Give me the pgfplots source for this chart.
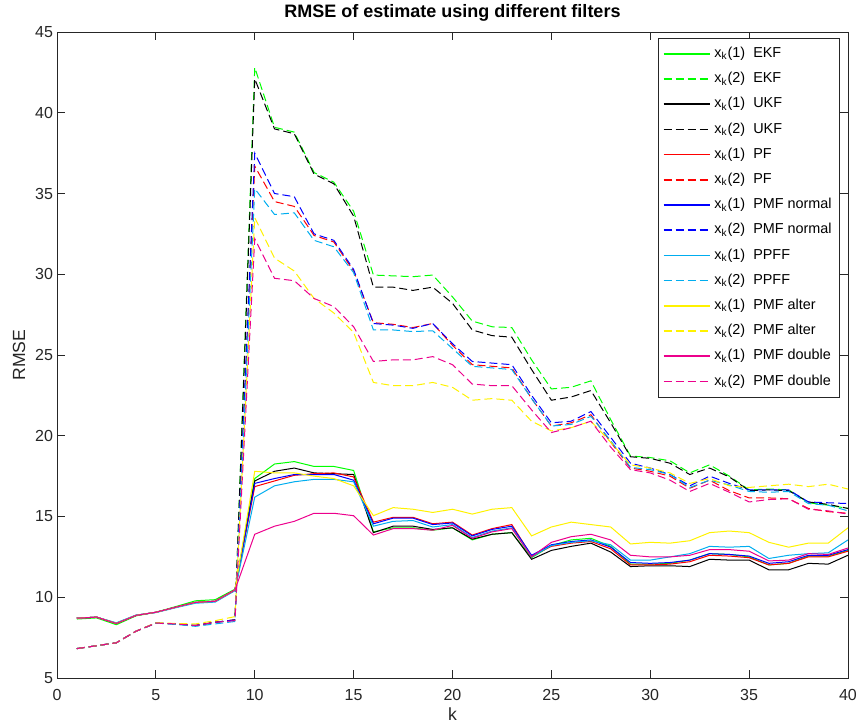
\documentclass[border=0pt]{standalone}
\usepackage{pgfplots}
\usepackage{pgfplotstable}
\pgfplotsset{compat=1.18}
\usepackage{fontspec}
\setmainfont{Liberation Sans}
\definecolor{axgray}{rgb}{0.15,0.15,0.15}

\pgfplotstableread{
k  e1    u1    p1    n1    f1    a1    d1
1  8.65  8.7   8.7   8.7   8.7   8.7   8.7
2  8.72  8.77  8.77  8.77  8.77  8.77  8.77
3  8.3   8.38  8.38  8.38  8.42  8.38  8.38
4  8.85  8.88  8.88  8.88  8.9   8.88  8.88
5  9.07  9.07  9.07  9.07  9.05  9.07  9.07
6  9.42  9.38  9.38  9.38  9.35  9.38  9.38
7  9.78  9.68  9.68  9.68  9.63  9.68  9.68
8  9.85  9.75  9.75  9.75  9.7   9.75  9.75
9  10.5  10.45 10.45 10.45 10.4  10.45 10.45
10 17.35 17.2  16.85 17.05 16.2  17.8  13.9
11 18.25 17.8  17.2  17.35 16.9  17.7  14.4
12 18.4  18.0  17.55 17.6  17.15 17.7  14.7
13 18.1  17.7  17.65 17.6  17.3  17.5  15.2
14 18.1  17.65 17.7  17.6  17.3  17.35 15.2
15 17.85 17.6  17.45 17.25 17.15 16.9  15.05
16 14.05 14.0  14.65 14.55 14.4  15.05 13.85
17 14.3  14.4  14.95 14.9  14.7  15.55 14.25
18 14.3  14.4  14.95 14.9  14.75 15.45 14.25
19 14.15 14.2  14.55 14.5  14.35 15.25 14.15
20 14.3  14.3  14.65 14.6  14.5  15.45 14.45
21 13.55 13.6  13.85 13.8  13.7  15.15 13.65
22 13.9  13.9  14.25 14.2  14.1  15.45 14.05
23 14.0  14.0  14.5  14.4  14.3  15.55 14.25
24 12.45 12.35 12.55 12.6  12.5  13.8  12.5
25 13.2  12.9  13.15 13.25 13.2  14.35 13.4
26 13.55 13.15 13.35 13.45 13.4  14.65 13.75
27 13.65 13.35 13.45 13.55 13.5  14.5  13.9
28 13.15 12.8  13.0  13.1  13.25 14.35 13.55
29 12.05 11.9  12.0  12.15 12.3  13.3  12.6
30 12.05 11.95 12.0  12.1  12.3  13.4  12.5
31 12.1  11.95 12.05 12.15 12.5  13.35 12.5
32 12.3  11.9  12.2  12.3  12.7  13.5  12.6
33 12.7  12.35 12.6  12.7  13.15 14.0  12.95
34 12.65 12.3  12.55 12.65 13.1  14.1  12.95
35 12.5  12.3  12.45 12.55 13.15 14.0  12.85
36 12.0  11.7  12.0  12.1  12.4  13.4  12.25
37 12.1  11.7  12.1  12.2  12.6  13.1  12.3
38 12.55 12.1  12.5  12.6  12.7  13.35 12.7
39 12.55 12.05 12.5  12.6  12.75 13.35 12.65
40 12.9  12.6  12.85 12.95 13.55 14.3  13.05
}\solid

\pgfplotstableread{
k  e2    u2    p2    n2    f2    a2    d2
1  6.82  6.82  6.82  6.82  6.82  6.82  6.82
2  7.0   7.0   7.0   7.0   7.0   7.0   7.0
3  7.18  7.18  7.18  7.18  7.18  7.18  7.18
4  7.9   7.9   7.9   7.9   7.9   7.9   7.9
5  8.4   8.4   8.4   8.4   8.4   8.42  8.4
6  8.35  8.35  8.35  8.35  8.32  8.38  8.35
7  8.25  8.25  8.25  8.25  8.2   8.35  8.25
8  8.45  8.45  8.45  8.45  8.35  8.55  8.45
9  8.6   8.6   8.6   8.6   8.5   8.8   8.55
10 42.8  42.1  36.7  37.5  35.3  33.5  32.2
11 39.1  39.0  34.5  35.0  33.7  31.0  29.75
12 38.8  38.7  34.2  34.8  33.8  30.2  29.6
13 36.3  36.2  32.4  32.5  32.1  28.5  28.5
14 35.7  35.6  32.0  32.1  31.7  27.6  28.0
15 33.9  33.6  30.2  30.3  30.1  26.4  26.75
16 29.95 29.2  27.0  26.95 26.55 23.3  24.6
17 29.9  29.2  26.9  26.85 26.55 23.1  24.7
18 29.85 29.0  26.7  26.65 26.45 23.1  24.7
19 29.95 29.2  26.95 26.95 26.5  23.3  24.9
20 28.6  28.2  25.6  25.7  25.4  23.0  24.4
21 27.1  26.55 24.4  24.6  24.3  22.2  23.2
22 26.75 26.2  24.3  24.5  24.2  22.3  23.1
23 26.7  26.1  24.2  24.4  24.1  22.2  23.1
24 24.7  24.1  22.3  22.5  22.3  20.9  21.6
25 22.9  22.2  20.6  20.8  20.6  20.3  20.2
26 23.0  22.4  20.8  20.9  20.7  20.5  20.5
27 23.4  22.8  21.3  21.5  21.2  20.9  20.9
28 21.0  20.8  19.6  19.9  19.7  19.6  19.3
29 18.75 18.7  18.0  18.3  18.05 18.2  17.9
30 18.65 18.6  17.8  18.0  17.9  18.0  17.7
31 18.45 18.3  17.5  17.6  17.6  17.7  17.25
32 17.7  17.6  16.75 16.9  16.8  17.05 16.55
33 18.2  18.0  17.25 17.5  17.25 17.35 17.05
34 17.5  17.45 16.6  17.05 16.95 16.9  16.5
35 16.65 16.6  16.15 16.65 16.55 16.8  15.9
36 16.7  16.65 16.15 16.65 16.5  16.9  16.05
37 16.65 16.6  16.1  16.65 16.55 17.0  16.1
38 15.85 15.9  15.5  15.9  15.8  16.85 15.45
39 15.7  15.75 15.3  15.85 15.7  17.0  15.35
40 15.5  15.5  15.2  15.8  15.35 16.7  15.15
}\dashed

\begin{document}
\begin{tikzpicture}
\begin{axis}[
  name=ax,
  at={(0pt,0pt)}, anchor=south west,
  scale only axis,
  width=395.5pt, height=323pt,
  xmin=0, xmax=40, ymin=5, ymax=45,
  xtick={0,5,...,40}, ytick={5,10,...,45},
  tick align=inside,
  major tick length=4pt,
  axis line style={axgray},
  every tick/.style={axgray},
  tick label style={font=\fontsize{8}{9.6}\selectfont, text=axgray},
  xticklabel style={yshift=-2pt},
  yticklabel style={xshift=1.5pt},
  /pgf/number format/assume math mode=true,
  title={\bfseries RMSE of estimate using different filters},
  title style={font=\fontsize{9}{10.8}\selectfont, yshift=-4pt},
  xlabel={k}, ylabel={RMSE},
  label style={font=\fontsize{8.8}{10.5}\selectfont, text=axgray},
  xlabel style={yshift=3pt},
  ylabel style={yshift=-2pt},
  legend style={at={(rel axis cs:0.99,0.991)}, anchor=north east,
    draw=axgray, font=\fontsize{7.2}{8.6}\selectfont, row sep=0pt,
    inner xsep=2pt, inner ysep=1.5pt,
    nodes={text height=6pt, text depth=2.4pt, inner ysep=2.1pt, inner xsep=2pt}},
  legend cell align=left,
  legend image code/.code={\draw[#1, line width=0.8pt] (0pt,0pt) -- (23pt,0pt);},
  every axis plot/.append style={line width=0.5pt},
]
\addplot[green, no marks] table[x=k,y=e1]{\solid};
\addlegendentry{x\textsubscript{k}(1)\ \ EKF}
\addplot[green, no marks, dash pattern=on 4pt off 2pt] table[x=k,y=e2]{\dashed};
\addlegendentry{x\textsubscript{k}(2)\ \ EKF}
\addplot[black, no marks] table[x=k,y=u1]{\solid};
\addlegendentry{x\textsubscript{k}(1)\ \ UKF}
\addplot[black, no marks, dash pattern=on 4pt off 2pt] table[x=k,y=u2]{\dashed};
\addlegendentry{x\textsubscript{k}(2)\ \ UKF}
\addplot[red, no marks] table[x=k,y=p1]{\solid};
\addlegendentry{x\textsubscript{k}(1)\ \ PF}
\addplot[red, no marks, dash pattern=on 4pt off 2pt] table[x=k,y=p2]{\dashed};
\addlegendentry{x\textsubscript{k}(2)\ \ PF}
\addplot[blue, no marks] table[x=k,y=n1]{\solid};
\addlegendentry{x\textsubscript{k}(1)\ \ PMF normal}
\addplot[blue, no marks, dash pattern=on 4pt off 2pt] table[x=k,y=n2]{\dashed};
\addlegendentry{x\textsubscript{k}(2)\ \ PMF normal}
\addplot[cyan, no marks] table[x=k,y=f1]{\solid};
\addlegendentry{x\textsubscript{k}(1)\ \ PPFF}
\addplot[cyan, no marks, dash pattern=on 4pt off 2pt] table[x=k,y=f2]{\dashed};
\addlegendentry{x\textsubscript{k}(2)\ \ PPFF}
\addplot[yellow, no marks] table[x=k,y=a1]{\solid};
\addlegendentry{x\textsubscript{k}(1)\ \ PMF alter}
\addplot[yellow, no marks, dash pattern=on 4pt off 2pt] table[x=k,y=a2]{\dashed};
\addlegendentry{x\textsubscript{k}(2)\ \ PMF alter}
\addplot[magenta, no marks] table[x=k,y=d1]{\solid};
\addlegendentry{x\textsubscript{k}(1)\ \ PMF double}
\addplot[magenta, no marks, dash pattern=on 4pt off 2pt] table[x=k,y=d2]{\dashed};
\addlegendentry{x\textsubscript{k}(2)\ \ PMF double}
\end{axis}
\pgfresetboundingbox
\path (-28.5pt,-23pt) rectangle (400.5pt,339pt);
\end{tikzpicture}
\end{document}
